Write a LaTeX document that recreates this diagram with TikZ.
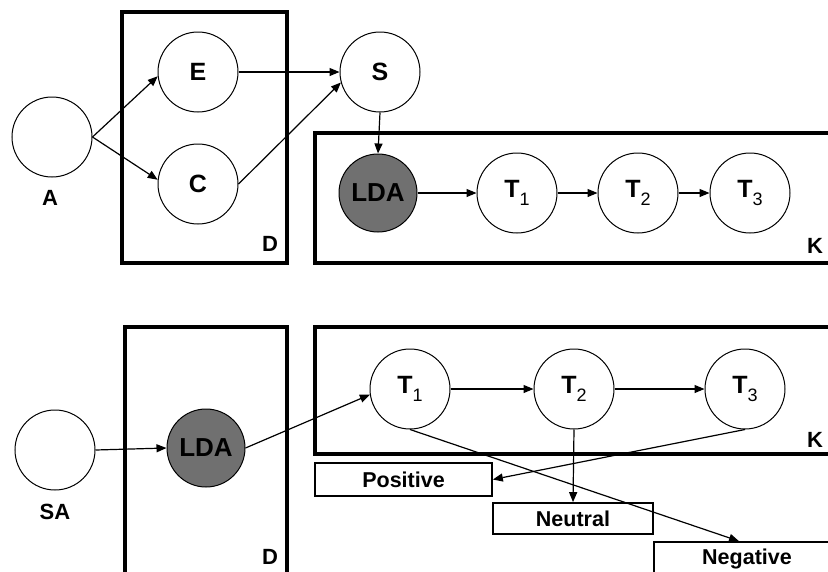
\documentclass[tikz,border=0pt]{standalone}
\usepackage{fontspec}
\setmainfont{Liberation Sans}
\usetikzlibrary{arrows.meta}
\definecolor{ldagray}{RGB}{112,112,112}
\newcommand{\Tsub}[1]{T\raisebox{-8.5pt}{\mdseries\fontsize{18}{18}\selectfont #1}}
\begin{document}
\begin{tikzpicture}[x=1pt,y=-1pt,
  var/.style={circle,draw,line width=1pt,minimum size=80pt,inner sep=0pt,font=\bfseries\fontsize{25}{25}\selectfont},
  tvar/.style={var,font=\bfseries\fontsize{25}{25}\selectfont},
  obs/.style={var,fill=ldagray,minimum size=78pt,font=\bfseries\fontsize{26}{26}\selectfont},
  plate/.style={draw,line width=3.4pt},
  lab/.style={font=\bfseries\fontsize{22}{22}\selectfont},
  arr/.style={-{Triangle[length=10pt,width=8pt]},line width=1.2pt},
  outbox/.style={draw,line width=1.7pt,inner sep=0pt,font=\bfseries\fontsize{21.5}{21.5}\selectfont}]
\useasboundingbox (0,0) rectangle (828,571);
% plates
\draw[plate] (122,12) rectangle (287,263);
\draw[plate] (315,133) rectangle (845,263);
\draw[plate] (125,327) rectangle (287,600);
\draw[plate] (315,327) rectangle (845,454);
\node[lab] (D1) at (270,244) {D};
\node[lab] (K1) at (815,246) {K};
\node[lab] (D2) at (270,557) {D};
\node[lab] (K2) at (815,440) {K};
% top model
\node[var] (A) at (52,137) {};
\node[lab] (Al) at (50,198) {A};
\node[var] (E) at (198,72) {E};
\node[var] (C) at (198,184) {C};
\node[var] (S) at (380,72) {S};
\node[obs] (L1) at (378,193) {LDA};
\node[tvar] (T1) at (517,193) {\Tsub{1}};
\node[tvar] (T2) at (638,193) {\Tsub{2}};
\node[tvar] (T3) at (750,193) {\Tsub{3}};
\draw[arr] (A.east) -- (E.186);
\draw[arr] (A.east) -- (C.174);
\draw[arr] (E.east) -- (S.west);
\draw[arr] (C.east) -- (S.195);
\draw[arr] (S.south) -- (L1.north);
\draw[arr] (L1.east) -- (T1.west);
\draw[arr] (T1.east) -- (T2.west);
\draw[arr] (T2.east) -- (T3.west);
% bottom model
\node[var] (SA) at (55,450) {};
\node[lab] (SAl) at (55,512) {SA};
\node[obs] (L2) at (206,448) {LDA};
\node[tvar] (U1) at (410,389) {\Tsub{1}};
\node[tvar] (U2) at (574,389) {\Tsub{2}};
\node[tvar] (U3) at (745,389) {\Tsub{3}};
\node[outbox,minimum width=177pt,minimum height=33pt] (Pos) at (403.5,479.5) {Positive};
\node[outbox,minimum width=160pt,minimum height=31pt] (Neu) at (573,518.5) {Neutral};
\node[outbox,minimum width=186pt,minimum height=33pt] (Neg) at (747,558.5) {Negative};
\draw[arr] (SA.east) -- (L2.west);
\draw[arr] (L2.east) -- (U1.188);
\draw[arr] (U1.east) -- (U2.west);
\draw[arr] (U2.east) -- (U3.west);
\draw[arr] (U1.south) -- ([xshift=-8pt]Neg.north);
\draw[arr] (U2.south) -- (Neu.north);
\draw[arr] (U3.south) -- (Pos.east);
\end{tikzpicture}
\end{document}
